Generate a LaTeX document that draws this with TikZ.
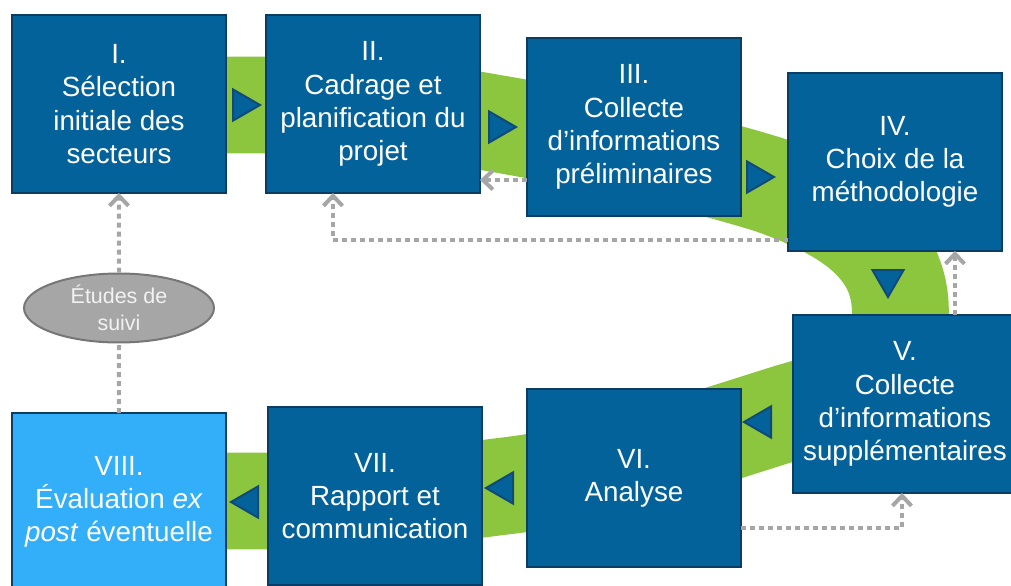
\documentclass[tikz,border=0pt]{standalone}
\usepackage{fontspec}
\setmainfont{Liberation Sans}
\usetikzlibrary{shapes.geometric,arrows.meta}

\definecolor{boxblue}{HTML}{04629B}
\definecolor{boxline}{HTML}{0B3D64}
\definecolor{lightbox}{HTML}{33AEF8}
\definecolor{bandgreen}{HTML}{8CC63F}
\definecolor{triline}{HTML}{104A78}
\definecolor{dotgray}{HTML}{A6A6A6}
\definecolor{ellgray}{HTML}{A6A6A6}
\definecolor{ellline}{HTML}{767676}
\definecolor{elltext}{HTML}{F2F2F2}

\tikzset{
  box/.style={draw=boxline, fill=boxblue, line width=0.05cm, minimum width=4.28cm, minimum height=3.56cm, inner sep=0, outer sep=0, text=white, align=center, font=\fontsize{15.8}{18.9}\selectfont},
  marker/.style={regular polygon, regular polygon sides=3, draw=triline, fill=boxblue, line width=0.04cm, minimum size=0.72cm, inner sep=0},
  dots/.style={draw=dotgray, line width=0.08cm, dash pattern=on 0.1cm off 0.08cm, -{Straight Barb[length=0.2cm,width=0.38cm]}},
}

\begin{document}
\begin{tikzpicture}[x=0.02cm, y=-0.02cm]
        \useasboundingbox (0,0) rectangle (1011,585);

        \draw[bandgreen, line width=1.94cm] (119,105) -- (330,105) .. controls (400,105) and (440,114) .. (505,125) .. controls (600,142) and (690,160) .. (770,185) .. controls (850,213) and (905,250) .. (900,320) .. controls (895,380) and (850,395) .. (790,412) .. controls (700,440) and (600,475) .. (505,486) .. controls (440,494) and (400,501) .. (330,501) -- (119,501);

        \foreach \n/\x/\y/\r in {t1/242/105/270, t2/498/127/270, t3/756/177/270, t4/888/279/180, t5/762/422/90, t6/504/488/90, t7/249/502/90}
          \node[marker, shape border rotate=\r] (\n) at (\x,\y) {};

        \draw (12,15) node[box, anchor=north west] (I) {I.\\Sélection\\initiale des\\secteurs};

        \draw (266,15) node[box, anchor=north west] (II) {II.\\Cadrage et\\planification du\\projet};

        \draw (527,38) node[box, anchor=north west] (III) {III.\\Collecte\\d’informations\\préliminaires};

        \draw (788,73) node[box, anchor=north west] (IV) {IV.\\Choix de la\\méthodologie};

        \draw (793,315) node[box, anchor=north west, minimum width=4.48cm] (V) {V.\\Collecte\\d’informations\\supplémentaires};

        \draw (527,389) node[box, anchor=north west] (VI) {VI.\\Analyse};

        \draw (268,407) node[box, anchor=north west] (VII) {VII.\\Rapport et\\communication};

        \draw (12,413) node[box, anchor=north west, fill=lightbox] (VIII) {VIII.\\Évaluation \textit{ex}\\\textit{post} éventuelle};

        \node[ellipse, draw=ellline, fill=ellgray, line width=0.04cm, minimum width=3.8cm, minimum height=1.38cm, inner sep=0, text=elltext, align=center, font=\fontsize{12.2}{15.4}\selectfont] (suivi) at (119,308) {Études de\\suivi};

        \draw[dots] ([shift={(0,53)}]III.west) coordinate (fromIII) -- (fromIII -| II.east);
        \draw[dots] ([shift={(0,78)}]IV.west) -| ([shift={(-40,0)}]II.south);
        \draw[dots] ([shift={(50,0)}]V.north) coordinate (fromV) -- (fromV |- IV.south);
        \draw[dots] ([shift={(0,50)}]VI.east) -| ([shift={(-3,0)}]V.south);
        \draw[dots] (suivi.north) -- (I.south);
        \draw[dots, -] (VIII.north) -- (suivi.south);
\end{tikzpicture}
\end{document}
